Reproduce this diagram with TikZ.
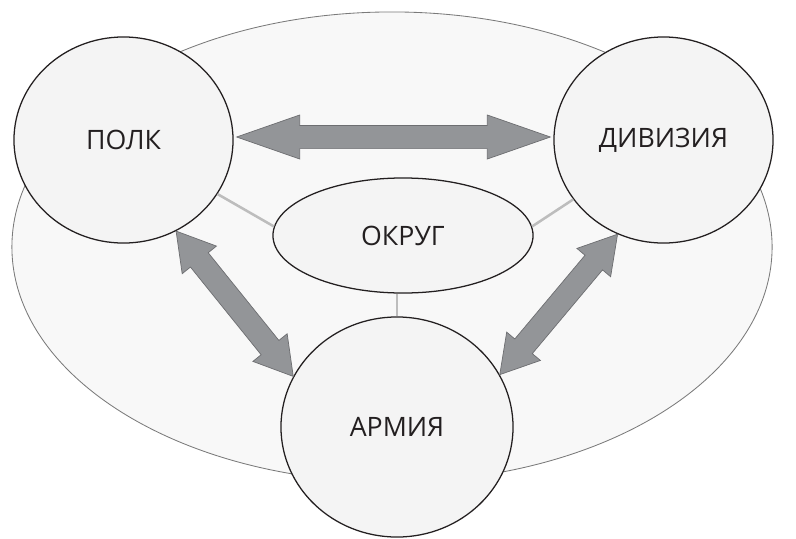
\documentclass[tikz,border=0pt]{standalone}
\usepackage{fontspec}
\setmainfont{Open Sans}
\usepackage{xcolor}
\usepackage{tikz}
\usetikzlibrary{calc,shapes.geometric}
\definecolor{ink}{HTML}{231F20}
\definecolor{rim}{HTML}{7A7A7A}
\definecolor{zonefill}{HTML}{F8F8F8}
\definecolor{unitfill}{HTML}{F4F4F4}
\definecolor{arrfill}{HTML}{939598}
\definecolor{arrline}{HTML}{6D6E71}
\definecolor{linkgray}{HTML}{BDBDBD}
\tikzset{
  zone/.style={ellipse, draw=rim, fill=zonefill, line width=0.6pt, minimum width=19cm, minimum height=11.75cm},
  unit/.style={ellipse, draw=ink, fill=unitfill, line width=0.9pt, inner sep=0pt, text=ink, font=\fontsize{19}{22}\selectfont},
  link/.style={draw=linkgray, line width=1.8pt},
  arr/.style={fill=arrfill, draw=arrline, line width=0.5pt, line join=miter}
}
% tips #1 #2, head length #3, head half width #4, shaft half width #5
\newcommand{\dblarrow}[5]{%
  \filldraw[arr] (#1)
    -- ($(#1)!#3!(#2)!#4!90:(#2)$)
    -- ($(#1)!#3!(#2)!#5!90:(#2)$)
    -- ($(#2)!#3!(#1)!#5!-90:(#1)$)
    -- ($(#2)!#3!(#1)!#4!-90:(#1)$)
    -- (#2)
    -- ($(#2)!#3!(#1)!#4!90:(#1)$)
    -- ($(#2)!#3!(#1)!#5!90:(#1)$)
    -- ($(#1)!#3!(#2)!#5!-90:(#2)$)
    -- ($(#1)!#3!(#2)!#4!-90:(#2)$)
    -- cycle;}

\begin{document}
\begin{tikzpicture}[x=0.025cm, y=-0.025cm]
  \useasboundingbox (0,0) rectangle (796,539);
  \node[zone] (region) at (392,247) {};
  \node[unit, minimum width=5.475cm, minimum height=5.15cm] (polk) at (123.5,140) {ПОЛК};
  \node[unit, minimum width=5.475cm, minimum height=5.15cm] (div) at (663.5,140) {ДИВИЗИЯ};
  \node[unit, minimum width=5.8cm, minimum height=5.5cm] (army) at (397,427) {АРМИЯ};
  \node[unit, minimum width=6.5cm, minimum height=2.875cm] (okrug) at (403,235.5) {ОКРУГ};
  \draw[link] (polk) -- (okrug.176);
  \draw[link] (div) -- (okrug.4);
  \draw[link] (army) -- (army |- okrug.south);
  \coordinate (pe) at ($(polk.east)+(3,-3)$);
  \coordinate (dw) at ($(div.west)+(-3,-3)$);
  \dblarrow{pe}{dw}{1.575cm}{0.55cm}{0.29cm}
  \dblarrow{polk.-60}{army.154}{0.925cm}{0.55cm}{0.285cm}
  \dblarrow{div.-116}{army.27}{0.925cm}{0.55cm}{0.285cm}
\end{tikzpicture}
\end{document}
